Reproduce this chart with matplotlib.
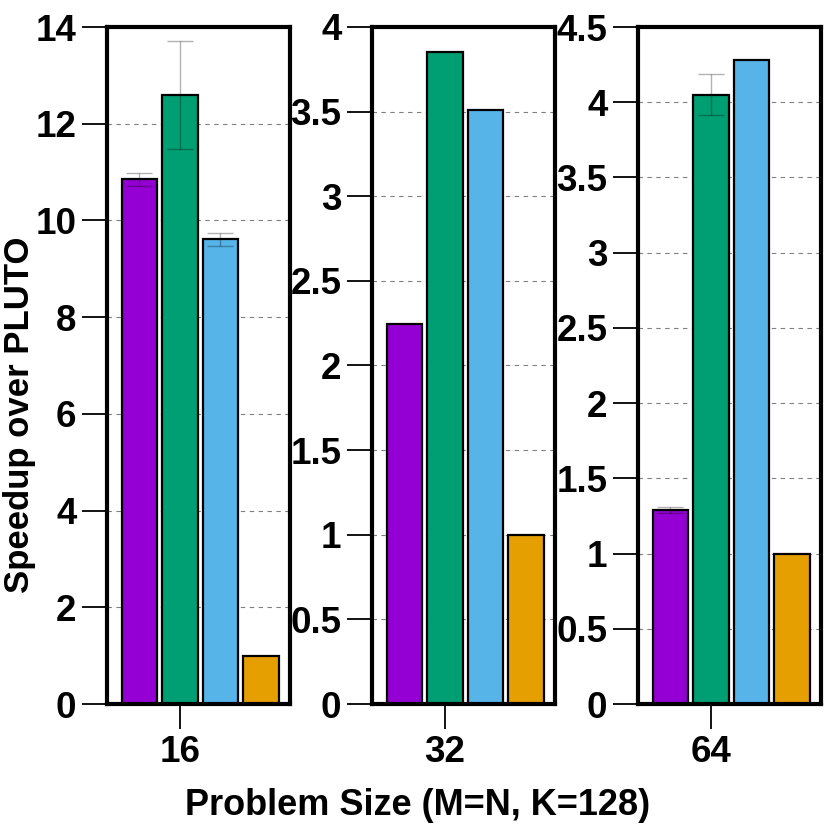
import matplotlib
matplotlib.use("Agg")
import matplotlib.pyplot as plt
import numpy as np

plt.rcParams['font.family'] = ['Liberation Sans', 'DejaVu Sans']
plt.rcParams['font.weight'] = 'bold'

# Data
sizes = ["16", "32", "64"]
series_colors = ["#9400D3", "#009E73", "#56B4E9", "#E69F00"]
vals_16 = [10.85, 12.60, 9.61, 1.0]
errs_16 = [0.14, 1.12, 0.13, 0.0]
vals_32 = [2.245, 3.855, 3.51, 1.0]
errs_32 = [0.0, 0.0, 0.0, 0.0]
vals_64 = [1.29, 4.05, 4.28, 1.0]
errs_64 = [0.02, 0.135, 0.0, 0.0]
ylims = [14, 4, 4.5]
ysteps = [2, 0.5, 0.5]

panels = [(vals_16, errs_16), (vals_32, errs_32), (vals_64, errs_64)]
offsets = np.array([-1, 0, 1, 2])

fig = plt.figure(figsize=(8.3, 8.3), dpi=100)
lefts = [107/830, 372/830, 638/830]
bottom = 126/830
width = 183/830
height = 677/830

def fmt(v):
    return f"{v:g}"

for i, (vals, errs) in enumerate(panels):
    ax = fig.add_axes([lefts[i], bottom, width, height])
    ax.bar(offsets, vals, width=0.88, color=series_colors,
           edgecolor="black", linewidth=1.6, zorder=2)
    for x, v, e in zip(offsets, vals, errs):
        if e > 0:
            ax.errorbar(x, v, yerr=e, fmt="none", ecolor="black", alpha=0.3,
                        elinewidth=1.0, capsize=9.5, capthick=1.0, zorder=3)
    ax.set_xlim(-1.8, 2.72)
    ax.set_ylim(0, ylims[i])
    ticks = np.arange(0, ylims[i] + 1e-9, ysteps[i])
    ax.set_yticks(ticks)
    ax.set_yticklabels([fmt(t) for t in ticks])
    ax.set_xticks([0])
    ax.set_xticklabels([sizes[i]])
    ax.yaxis.grid(True, linestyle=(0, (4, 4)), color="#808080", linewidth=0.8, zorder=0)
    ax.set_axisbelow(True)
    for sp in ax.spines.values():
        sp.set_linewidth(3.0)
        sp.set_color("black")
    ax.tick_params(axis="both", direction="out", length=18, width=1.3,
                   labelsize=26.5, pad=4)
    for lbl in ax.get_xticklabels() + ax.get_yticklabels():
        lbl.set_fontweight("bold")

fig.text(20/830, 1 - 415/830, "Speedup over PLUTO", rotation=90,
         ha="center", va="center", fontsize=25, fontweight="bold")
fig.text(418/830, 1 - 805/830, "Problem Size (M=N, K=128)",
         ha="center", va="center", fontsize=26, fontweight="bold")

fig.savefig("out.png", dpi=100)
